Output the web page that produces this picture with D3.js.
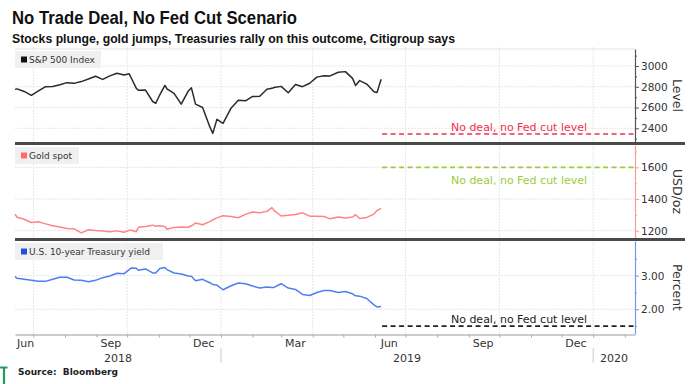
<!DOCTYPE html>
<html>
<head>
<meta charset="utf-8">
<script src="https://cdn.jsdelivr.net/npm/d3@7"></script>
<style>
  body { margin: 0; background: #fff; }
  svg { display: block; }
  text { font-family: "DejaVu Sans", Verdana, sans-serif; }
</style>
</head>
<body>
<div id="canvas"></div>
<script>
const dates = ["2018-06-13","2018-06-15","2018-06-22","2018-06-29","2018-07-06","2018-07-13","2018-07-20","2018-07-27",
  "2018-08-03","2018-08-10","2018-08-17","2018-08-24","2018-08-31","2018-09-07","2018-09-14","2018-09-21","2018-09-28",
  "2018-10-03","2018-10-05","2018-10-10","2018-10-12","2018-10-19","2018-10-26","2018-10-29","2018-11-02","2018-11-07",
  "2018-11-09","2018-11-16","2018-11-23","2018-11-30","2018-12-03","2018-12-07","2018-12-14","2018-12-21","2018-12-24",
  "2018-12-28","2019-01-03","2019-01-11","2019-01-18","2019-01-25","2019-02-01","2019-02-08","2019-02-15","2019-02-20",
  "2019-02-22","2019-03-01","2019-03-08","2019-03-15","2019-03-22","2019-03-29","2019-04-05","2019-04-12","2019-04-18",
  "2019-04-26","2019-05-03","2019-05-10","2019-05-13","2019-05-17","2019-05-24","2019-05-31","2019-06-03","2019-06-07"];

const spx = [2775,2780,2755,2718,2760,2801,2802,2819,
  2840,2833,2850,2875,2902,2871,2905,2930,2914,
  2925,2885,2785,2767,2768,2658,2641,2723,2813,
  2781,2736,2633,2760,2790,2633,2600,2416,2351,
  2486,2448,2596,2671,2665,2707,2708,2776,2785,
  2793,2804,2743,2822,2801,2834,2893,2907,2905,
  2940,2946,2881,2812,2860,2826,2752,2744,2873];

const gold = [1305,1285,1272,1252,1256,1243,1231,1224,
  1214,1212,1186,1206,1201,1198,1194,1199,1190,
  1203,1203,1194,1222,1226,1235,1228,1232,1227,
  1209,1221,1223,1222,1231,1248,1238,1257,1269,
  1281,1294,1289,1282,1303,1318,1314,1322,1346,
  1328,1293,1298,1302,1313,1292,1291,1290,1275,
  1286,1280,1286,1301,1277,1284,1305,1327,1341];

const yld = [2.97,2.92,2.89,2.86,2.83,2.83,2.89,2.95,
  2.95,2.87,2.86,2.82,2.86,2.94,2.99,3.07,3.06,
  3.18,3.23,3.22,3.16,3.20,3.08,3.08,3.21,3.24,
  3.18,3.08,3.05,2.99,2.98,2.85,2.89,2.79,2.74,
  2.72,2.58,2.70,2.78,2.76,2.69,2.63,2.66,2.65,
  2.65,2.76,2.63,2.59,2.44,2.41,2.50,2.56,2.56,
  2.50,2.53,2.46,2.40,2.39,2.32,2.13,2.07,2.08];

// "no deal, no Fed cut" scenario levels
const spxLevel = 2345, goldLevel = 1600, yldLevel = 1.5;

const spxTicks = [2400,2600,2800,3000], spxMinor = [2300,2500,2700,2900,3100];
const goldTicks = [1200,1400,1600], goldMinor = [1300,1500,1700];
const yldTicks = [2,3], yldMinor = [1.5,2.5,3.5];

const monthLabels = ["2018-06","2018-09","2018-12","2019-03","2019-06","2019-09","2019-12"];
const years = ["2018","2019","2020"];

const width = 699, height = 384;
const left = 15, right = 635;
const parse = d3.utcParse("%Y-%m-%d");
const dd = dates.map(parse);

const svg = d3.select("#canvas").append("svg").attr("width", width).attr("height", height);
svg.append("rect").attr("width", width).attr("height", height).attr("fill", "#fff");

const x = d3.scaleUtc()
  .domain([parse("2018-06-13"), parse("2020-02-11")])
  .range([left, right]);

// titles
svg.append("text").attr("x", 12).attr("y", 24)
  .attr("textLength", 285).attr("lengthAdjust", "spacingAndGlyphs")
  .style("font-family", "'Liberation Sans Narrow', 'Liberation Sans', Arial, sans-serif")
  .style("font-weight", "bold").style("font-size", "19px").attr("fill", "#111")
  .text("No Trade Deal, No Fed Cut Scenario");
svg.append("text").attr("x", 12).attr("y", 42.5)
  .attr("textLength", 443).attr("lengthAdjust", "spacingAndGlyphs")
  .style("font-family", "'Liberation Sans Narrow', 'Liberation Sans', Arial, sans-serif")
  .style("font-weight", "bold").style("font-size", "13.5px").attr("fill", "#111")
  .text("Stocks plunge, gold jumps, Treasuries rally on this outcome, Citigroup says");

const panels = [
  { top: 49, bottom: 142, domain: [2268, 3164], values: spx, ticks: spxTicks, minor: spxMinor,
    fmt: d3.format("d"), color: "#2a2a2a", axisColor: "#555", name: "S&P 500 Index", marker: "#111",
    unit: "Level", level: spxLevel, levelColor: "#f2304e", labelDy: -3.5, legendW: 86 },
  { top: 145, bottom: 238, domain: [1154, 1741], values: gold, ticks: goldTicks, minor: goldMinor,
    fmt: d3.format("d"), color: "#ff8585", axisColor: "#ff9a9a", name: "Gold spot", marker: "#ff6b6b",
    unit: "USD/oz", level: goldLevel, levelColor: "#9ccc3a", labelDy: 17, legendW: 64 },
  { top: 241, bottom: 334, domain: [1.265, 4.03], values: yld, ticks: yldTicks, minor: yldMinor,
    fmt: d3.format(".2f"), color: "#4d7ff0", axisColor: "#6f97f5", name: "U.S. 10-year Treasury yield", marker: "#2050e0",
    unit: "Percent", level: yldLevel, levelColor: "#222", labelDy: -3.5, legendW: 148 }
];

const quarters = x.ticks(d3.utcMonth.every(3));
const lineStart = parse("2019-06-08");

panels.forEach(p => {
  const y = d3.scaleLinear().domain(p.domain).range([p.bottom, p.top]);
  const g = svg.append("g");

  // gridlines
  g.selectAll(".hg").data(p.ticks).join("line")
    .attr("x1", left).attr("x2", right)
    .attr("y1", d => y(d)).attr("y2", d => y(d))
    .attr("stroke", "#e6e6e6").attr("stroke-dasharray", "2,1");
  g.selectAll(".vg").data(quarters).join("line")
    .attr("x1", d => x(d)).attr("x2", d => x(d))
    .attr("y1", p.top - 2).attr("y2", p.bottom + 1)
    .attr("stroke", "#e6e6e6").attr("stroke-dasharray", "2,1");

  // legend
  const lg = g.append("g").attr("transform", `translate(${left},${p.top + 2})`);
  lg.append("rect").attr("width", p.legendW).attr("height", 17).attr("fill", "#f0f0f0");
  lg.append("rect").attr("x", 6).attr("y", 5.5).attr("width", 6).attr("height", 6).attr("fill", p.marker);
  lg.append("text").attr("x", 14).attr("y", 12).style("font-size", "9px").attr("fill", "#333").text(p.name);

  // scenario level
  g.append("line")
    .attr("x1", x(lineStart)).attr("x2", right)
    .attr("y1", y(p.level)).attr("y2", y(p.level))
    .attr("stroke", p.levelColor).attr("stroke-width", 1.6).attr("stroke-dasharray", "5,3.5");
  g.append("text")
    .attr("x", 519).attr("y", y(p.level) + p.labelDy)
    .attr("text-anchor", "middle").style("font-size", "11px").attr("fill", p.levelColor)
    .text("No deal, no Fed cut level");

  // series
  const line = d3.line().x((d, i) => x(dd[i])).y(d => y(d));
  g.append("path").datum(p.values)
    .attr("fill", "none").attr("stroke", p.color).attr("stroke-width", 1.5)
    .attr("stroke-linejoin", "round").attr("d", line);

  // right axis
  const ax = g.append("g").attr("transform", `translate(${right},0)`)
    .call(d3.axisRight(y).tickValues(p.ticks).tickSize(4).tickSizeOuter(0).tickPadding(2).tickFormat(p.fmt));
  ax.select(".domain").attr("stroke", p.axisColor).attr("stroke-width", 1.2);
  ax.selectAll(".tick line").attr("stroke", p.axisColor);
  ax.selectAll(".tick text").style("font-size", "10.5px").style("font-family", "'DejaVu Sans', sans-serif").attr("fill", "#333");
  const mx = g.append("g").attr("transform", `translate(${right},0)`)
    .call(d3.axisRight(y).tickValues(p.minor).tickSize(2).tickSizeOuter(0).tickFormat(""));
  mx.select(".domain").remove();
  mx.selectAll(".tick line").attr("stroke", p.axisColor);

  g.append("text")
    .attr("transform", `translate(673,${(p.top + p.bottom) / 2}) rotate(90)`)
    .attr("text-anchor", "middle").style("font-size", "12.5px").attr("fill", "#333")
    .text(p.unit);
});

// panel separators
[143.5, 239.5].forEach(yy => {
  svg.append("line").attr("x1", left).attr("x2", 685).attr("y1", yy).attr("y2", yy)
    .attr("stroke", "#4a4a4a").attr("stroke-width", 3);
});
svg.append("line").attr("x1", left).attr("x2", right).attr("y1", 49).attr("y2", 49)
  .attr("stroke", "#e3e3e3");

// x axis
const xa = svg.append("g").attr("transform", "translate(0,334.5)")
  .call(d3.axisBottom(x).ticks(d3.utcMonth.every(1)).tickSize(3).tickSizeOuter(0).tickFormat(""));
xa.select(".domain").attr("stroke", "#bbb").attr("stroke-width", 1.5);
xa.selectAll(".tick line").attr("stroke", "#aaa");

const fmtMonth = d3.utcFormat("%b");
monthLabels.forEach(m => {
  const d0 = d3.utcParse("%Y-%m")(m);
  const t = svg.append("text").attr("y", 347).style("font-size", "11px").attr("fill", "#333").text(fmtMonth(d0));
  const cx = x(d3.utcDay.offset(d0, 14));
  const w = t.node().getComputedTextLength();
  if (cx - w / 2 < left + 2) t.attr("x", left + 2);
  else t.attr("x", cx).attr("text-anchor", "middle");
});

years.forEach(yr => {
  const a = Math.max(x.range()[0], x(d3.utcParse("%Y")(yr)));
  const b = Math.min(x.range()[1], x(d3.utcParse("%Y")(String(+yr + 1))));
  svg.append("text").attr("x", (a + b) / 2).attr("y", 362)
    .attr("text-anchor", "middle").style("font-size", "11px").attr("fill", "#333").text(yr);
  if (x(d3.utcParse("%Y")(yr)) > left) {
    svg.append("line").attr("x1", a).attr("x2", a).attr("y1", 348).attr("y2", 363)
      .attr("stroke", "#ccc");
  }
});

// footer
svg.append("text").attr("x", 18).attr("y", 375)
  .style("font-size", "9px").style("font-weight", "bold").attr("fill", "#222")
  .attr("xml:space", "preserve").text("Source:  Bloomberg");
svg.append("path").attr("d", "M0,367.5H7.5M4,367.5V384")
  .attr("stroke", "#1f9d5c").attr("stroke-width", 2.2).attr("fill", "none");
</script>
</body>
</html>
